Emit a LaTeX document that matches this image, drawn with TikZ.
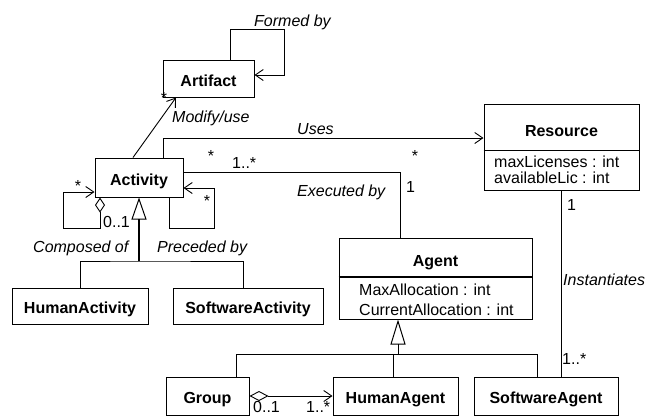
\documentclass[tikz,border=0pt]{standalone}
\usepackage{fontspec}
\setmainfont{Liberation Sans}
\usetikzlibrary{arrows.meta}
\begin{document}
\begin{tikzpicture}[x=1pt,y=-1pt,
  txt/.style={font=\fontsize{16}{19}\selectfont},
  box/.style={draw, line width=1pt, inner sep=0pt},
  cls/.style={box, txt, font=\fontsize{16}{19}\selectfont\bfseries, text height=15pt, text depth=0pt},
  title/.style={inner sep=0pt, anchor=base, font=\fontsize{16}{19}\selectfont\bfseries},
  lbl/.style={inner sep=0pt, anchor=base west, txt},
  role/.style={lbl, font=\fontsize{16}{19}\selectfont\itshape},
  star/.style={inner sep=0pt, anchor=base, txt},
  assoc/.style={line width=0.9pt},
  barb/.tip={Straight Barb[length=8pt,width=11pt,line width=0.9pt]},
  nav/.style={assoc, -barb},
  aggr/.style={assoc, {Diamond[open,length=#1,width=10pt,line width=0.9pt]}-barb},
  gen/.style={-{Triangle[open,length=#1,width=15pt,line width=1pt]}},
]
\useasboundingbox (0,0) rectangle (660,416);

% classes
\node[cls, minimum width=91pt, minimum height=37pt] (art) at (208.5,78.5) {Artifact};
\node[cls, minimum width=88pt, minimum height=39pt] (act) at (139,177.5) {Activity};
\node[cls, minimum width=136pt, minimum height=36pt] (hact) at (80,306) {HumanActivity};
\node[cls, minimum width=150pt, minimum height=36pt] (sact) at (248,306) {SoftwareActivity};
\node[cls, minimum width=83pt, minimum height=38pt] (grp) at (207.5,396) {Group};
\node[cls, minimum width=125pt, minimum height=38pt] (hag) at (395.5,396) {HumanAgent};
\node[cls, minimum width=144pt, minimum height=38pt] (sag) at (546,396) {SoftwareAgent};

% Resource with its attributes
\node[box, minimum width=155pt, minimum height=86pt] (res) at (561.5,147) {};
\node[title] (res-t) at (561.5,136) {Resource};
\draw[line width=1pt] (res.west |- 0,150) -- (res.east |- 0,150);
\node[lbl] (res-a1) at (494,167) {maxLicenses : int};
\node[lbl] (res-a2) at (494,183) {availableLic : int};

% Agent with its attributes
\node[box, minimum width=193pt, minimum height=81pt] (agt) at (435.5,278.5) {};
\node[title] (agt-t) at (435.5,266) {Agent};
\draw[line width=2pt] (agt.west |- 0,277) -- (agt.east |- 0,277);
\node[lbl] (agt-a1) at (359,295) {MaxAllocation : int};
\node[lbl] (agt-a2) at (359,315) {CurrentAllocation : int};

% Formed by
\draw[nav] ([xshift=-24pt]art.north east) |- (284,29) |- ([yshift=3.5pt]art.east);
\node[role] (l-formed) at (254,26) {Formed by};

% Modify/use
\draw[nav] ([xshift=-6pt]act.north) -- ([xshift=-32.5pt]art.south);
\node[star] (m-art) at (164,103) {*};
\node[role] (l-mod) at (172,122) {Modify/use};

% Uses
\draw[nav] ([xshift=24pt]act.north) |- ([yshift=9pt]res.west);
\node[role] (l-uses) at (297,134) {Uses};
\node[star] (m-uses1) at (211,161) {*};
\node[star] (m-uses2) at (415,161) {*};

% Executed by
\draw[assoc] ([yshift=5.5pt]act.east) -| ([xshift=-35.5pt]agt.north);
\node[lbl] (m-ex1) at (232,168) {1..*};
\node[role] (l-exec) at (297,196) {Executed by};
\node[lbl] (m-ex2) at (406,192) {1};

% Composed of
\draw[aggr=15pt] ([xshift=-39pt]act.south) |- (63,228) |- ([yshift=-14.5pt]act.west);
\node[star] (m-comp1) at (78,191) {*};
\node[lbl] (m-comp2) at (103,227) {0..1};
\node[role] (l-comp) at (33,252) {Composed of};

% Preceded by
\draw[nav] ([xshift=30pt]act.south) |- (214,228) |- ([yshift=-10.5pt]act.east);
\node[star] (m-prec) at (207,206) {*};
\node[role] (l-prec) at (157,252) {Preceded by};

% Activity specialisations
\coordinate (gA) at (139,261);
\draw[assoc] (hact.north) |- (gA) -| ([xshift=-5pt]sact.north);
\draw[line width=2pt, gen=22pt] (gA) -- (act.south);

% Agent specialisations
\coordinate (gB) at (398,354);
\draw[assoc] ([xshift=28.5pt]grp.north) |- (gB) -| ([xshift=-9pt]sag.north);
\draw[assoc] ([xshift=-2.5pt]hag.north) |- (gB);
\draw[assoc, gen=25pt] (gB) -- ([xshift=-37.5pt]agt.south);

% Instantiates
\draw[assoc] (res.south) -- (res.south |- sag.north);
\node[lbl] (m-inst1) at (567,210) {1};
\node[role] (l-inst) at (563,285) {Instantiates};
\node[lbl] (m-inst2) at (562,364) {1..*};

% Group aggregates HumanAgent
\draw[aggr=19pt] (grp.east) -- (hag.west);
\node[lbl] (m-grp1) at (253,412) {0..1};
\node[lbl] (m-grp2) at (306,412) {1..*};
\end{tikzpicture}
\end{document}
